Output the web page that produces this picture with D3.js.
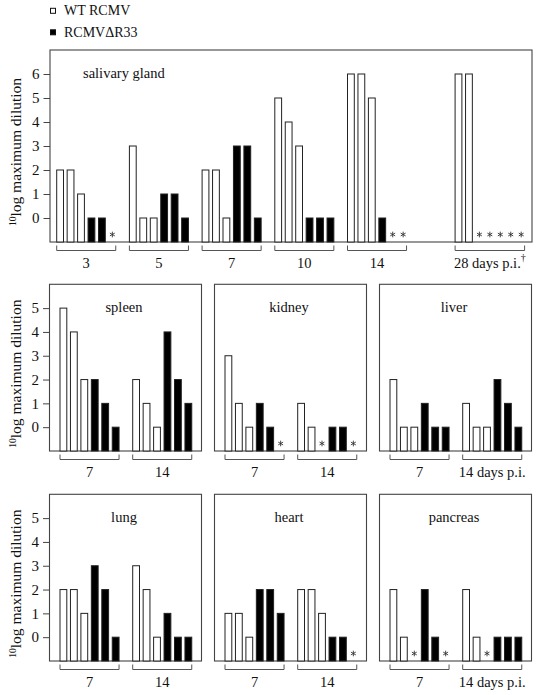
<!DOCTYPE html>
<html><head><meta charset="utf-8">
<script src="https://cdn.jsdelivr.net/npm/d3@7"></script>
<style>
html,body{margin:0;padding:0;background:#fff;}
svg{display:block;}
</style></head>
<body><svg id="chart" width="540" height="695" font-family="Liberation Serif"></svg>
<script>
// ---------- data (null = not detected, shown as *) ----------
const seriesNames = ["WT RCMV", "RCMV\u0394R33"];
const salivaryDays = ["3", "5", "7", "10", "14", "28 days p.i."];
const salivaryWT  = [[2,2,1],[3,0,0],[2,2,0],[5,4,3],[6,6,5],[6,6]];
const salivaryR33 = [[0,0,null],[1,1,0],[3,3,0],[0,0,0],[0,null,null],[null,null,null,null,null]];

const organDays = ["7", "14"];
const organDaysLast = ["7", "14 days p.i."];
const spleenWT = [[5,4,2],[2,1,0]],      spleenR33 = [[2,1,0],[4,2,1]];
const kidneyWT = [[3,1,0],[1,0,null]],   kidneyR33 = [[1,0,null],[0,0,null]];
const liverWT  = [[2,0,0],[1,0,0]],      liverR33  = [[1,0,0],[2,1,0]];
const lungWT   = [[2,2,1],[3,2,0]],      lungR33   = [[3,2,0],[1,0,0]];
const heartWT  = [[1,1,0],[2,2,1]],      heartR33  = [[2,2,1],[0,0,null]];
const pancreasWT = [[2,0,null],[2,0,null]], pancreasR33 = [[2,0,null],[0,0,0]];
const topTicks = [0,1,2,3,4,5,6];
const organTicks = [0,1,2,3,4,5];

// ---------- layout ----------
const FONT = "Liberation Serif";
const svg = d3.select("#chart");
const SLOT = 10.45, BARW = 6.8, GROUP = 72.7;
const ink = "#111", lineC = "#444";
const star = d3.symbol().type(d3.symbolAsterisk).size(22);

// legend
const leg = svg.append("g");
[["#fff", 8.3, 15.2], ["#000", 29.8, 36.6]].forEach((d, i) => {
  leg.append("rect").attr("x", 50.5).attr("y", d[1]).attr("width", 5).attr("height", 5)
    .attr("fill", d[0]).attr("stroke", "#111").attr("stroke-width", 1);
  leg.append("text").attr("x", 64).attr("y", d[2]).attr("font-size", 14).attr("fill", ink)
    .attr("font-family", FONT).text(seriesNames[i]);
});

function panel(o) {
  const g = svg.append("g");
  const y = d3.scaleLinear().domain([-1, o.ymax]).range([o.bottom, o.top]);
  const gx = d3.scaleLinear().domain([0, 1]).range([o.left + o.inset, o.left + o.inset + GROUP]);
  const sx = d3.scaleLinear().domain([0, 1]).range([0, SLOT]);

  g.append("rect").attr("x", o.left).attr("y", o.top).attr("width", o.right - o.left)
    .attr("height", o.bottom - o.top).attr("fill", "none").attr("stroke", lineC).attr("stroke-width", 1.1);

  if (o.ticks) {
    const ax = g.append("g").attr("transform", `translate(${o.left},0)`)
      .call(d3.axisLeft(y).tickValues(o.ticks).tickSize(6.5).tickPadding(4).tickFormat(d3.format("d")));
    ax.attr("font-family", FONT).attr("font-size", 15);
    ax.select(".domain").remove();
    ax.selectAll("line").attr("stroke", lineC);
    ax.selectAll("text").attr("font-size", 15).attr("fill", ink).attr("font-family", FONT);
    const cy = (o.top + o.bottom) / 2 + 6;
    const t = g.append("text").attr("transform", `translate(21,${cy}) rotate(-90)`)
      .attr("text-anchor", "middle").attr("fill", ink).attr("font-family", FONT);
    t.append("tspan").attr("font-size", 9.5).attr("dy", -5.5).text("10");
    t.append("tspan").attr("font-size", 15.5).attr("dy", 5.5).text("log maximum dilution");
  }

  g.append("text").attr("x", o.titleX).attr("y", y(o.titleV) + 4).attr("font-family", FONT)
    .attr("text-anchor", o.titleAnchor).attr("font-size", 14.5).attr("fill", ink).text(o.title);

  o.days.forEach((day, i) => {
    const x0 = gx(o.gpos ? o.gpos[i] : i);
    const vals = o.wt[i].map(v => ({v, black: false})).concat(o.r33[i].map(v => ({v, black: true})));
    vals.forEach((d, k) => {
      const xs = x0 + sx(k);
      if (d.v === null) {
        g.append("path").attr("d", star)
          .attr("transform", `translate(${xs + BARW / 2},${y(-1) - 7.5})`)
          .attr("fill", "none").attr("stroke", "#333").attr("stroke-width", 0.9);
      } else {
        g.append("rect").attr("x", xs).attr("y", y(d.v)).attr("width", BARW)
          .attr("height", y(-1) - y(d.v)).attr("fill", d.black ? "#000" : "#fff")
          .attr("stroke", "#222").attr("stroke-width", 1);
      }
    });
    const x1 = x0, x2 = x0 + sx(vals.length - 1) + BARW;
    const b = y(-1);
    g.append("path").attr("d", `M${x1},${b + 3.5}V${b + 8.5}H${x2}V${b + 3.5}`)
      .attr("fill", "none").attr("stroke", "#555").attr("stroke-width", 1);
    const lab = g.append("text").attr("x", (x1 + x2) / 2).attr("y", b + 25.5).attr("font-family", FONT)
      .attr("text-anchor", "middle").attr("font-size", 14.5).attr("fill", ink);
    lab.append("tspan").text(day);
    if (o.dagger && i === o.days.length - 1) {
      lab.append("tspan").attr("font-size", 10).attr("dy", -7).text("\u2020");
    }
  });
}

panel({left: 50, right: 532, top: 50, bottom: 242, ymax: 7, inset: 6.7, ticks: topTicks,
  title: "salivary gland", titleX: 83, titleAnchor: "start", titleV: 6,
  days: salivaryDays, wt: salivaryWT, r33: salivaryR33, gpos: [0,1,2,3,4,5.48], dagger: true});

const cols = [49.5, 214.5, 379.5], W = 152;
const rows = [{top: 284.3, bottom: 451}, {top: 494.3, bottom: 661}];
const organs = [
  ["spleen", spleenWT, spleenR33, organDays],
  ["kidney", kidneyWT, kidneyR33, organDays],
  ["liver", liverWT, liverR33, organDaysLast],
  ["lung", lungWT, lungR33, organDays],
  ["heart", heartWT, heartR33, organDays],
  ["pancreas", pancreasWT, pancreasR33, organDaysLast]
];
organs.forEach((org, idx) => {
  const r = rows[Math.floor(idx / 3)], c = idx % 3;
  const left = cols[c];
  panel({left, right: left + W, top: r.top, bottom: r.bottom, ymax: 6, inset: 10.5,
    ticks: c === 0 ? organTicks : null,
    title: org[0], titleX: left + W / 2 - 1.5, titleAnchor: "middle", titleV: 5,
    days: org[3], wt: org[1], r33: org[2]});
});
</script></body></html>
